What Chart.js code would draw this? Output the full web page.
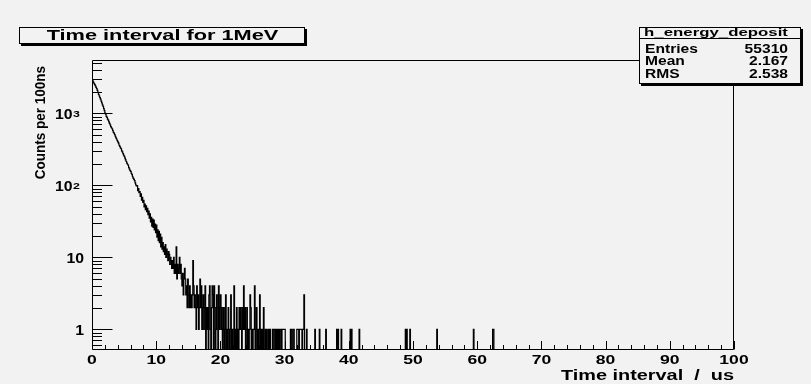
<!DOCTYPE html>
<html><head><meta charset="utf-8">
<script src="https://cdn.jsdelivr.net/npm/chart.js@4/dist/chart.umd.min.js"></script>
<style>
html,body{margin:0;padding:0;background:#f2f2f2;overflow:hidden;width:811px;height:384px;}
#wrap{position:absolute;left:0;top:0;width:811px;height:384px;}
</style></head><body>
<div id="wrap"><canvas id="c"></canvas></div>
<script>
// ---- data (bin width 0.1 us = 100 ns, 1000 bins from 0 to 100 us) ----
const binWidth = 0.1;
const nBins = 1000;
// counts for 0.0 - 17.9 us
const countsDecay = [
 2880,2790,2700,2590,2510, 2410,2290,2200,2080,1960,
 1830,1740,1650,1570,1480, 1400,1310,1250,1160,1090,
 1010,975,905,880,830, 805,760,725,690,655,
 630,610,580,545,530, 505,480,455,440,418,
 400,385,360,348,330, 322,300,292,276,262,
 252,238,226,214,203, 196,190,176,168,160,
 156,146,141,131,125, 121,116,108,101,98,
 99,84,90,79,82, 70,76,62,68,58,
 62,50,55,46,52, 43,48,39,44,35,
 40,31,36,27,34, 26,33,24,29,22,
 28,19,24,17,23, 16,21,14,19,13,
 16,12,14,11,15, 10,13,11,9,12,
 11,8,10,9,7, 9,7,10,6,8,
 6,14,5,8,6, 7,10,6,8,5,
 4,6,3,5,7, 5,3,4,2,5,
 3,2,4,2,3, 2,3,9,4,2,
 3,2,1,4,2, 3,1,2,5,2,
 4,1,2,3,1, 2,4,0,2,1
];
// counts for 18.0 - 34.9 us
const countsTail = [
 2,0,3,4,1,0,2,4,3,0,
 4,2,0,1,3,2,0,4,1,2,
 3,1,2,0,1,2,0,1,3,0,
 1,0,2,1,0,1,3,0,1,0,
 1,4,0,1,0,2,0,1,0,2,
 1,2,1,0,2,1,4,1,2,0,
 1,2,0,1,0,1,3,2,0,1,
 0,1,1,4,0,1,2,0,1,0,
 1,3,0,1,0,1,0,2,0,0,
 1,0,1,0,0,1,0,1,0,0,
 0,1,1,0,1,1,0,1,0,1,
 0,1,0,1,1,0,1,1,1,1,
 1,0,0,0,0,0,0,0,0,1,
 1,0,0,1,1,0,0,0,0,1,
 1,1,0,1,1,1,1,0,1,1,
 3,0,0,0,1,0,0,0,0,0,
 0,0,0,0,0,0,0,1,0,0
];
// isolated entries beyond 35 us: bin index and count
const sparseBins   = [354,364,381,383,388,402,404,416,488,490,495,537,594,624,625];
const sparseCounts = [1,1,1,1,1,1,1,1,1,1,1,1,1,1,1];

const xTickValues = [0,10,20,30,40,50,60,70,80,90,100];
const yTickValues = [1,10,100,1000];
const yTickLabels = ['1','10','10\u00B2','10\u00B3'];
const titleText = 'Time interval for 1MeV';
const xTitle = 'Time interval  /  us';
const yTitle = 'Counts per 100ns';
const histName = 'h_energy_deposit';
const statsLabels = ['Entries','Mean','RMS'];
const statsValues = ['55310','2.167','2.538'];

// ---- build histogram polyline (step) ----
const counts = new Array(nBins).fill(0);
countsDecay.forEach((c,i)=>{counts[i]=c;});
countsTail.forEach((c,i)=>{counts[countsDecay.length+i]=c;});
sparseBins.forEach((b,i)=>{counts[b]=sparseCounts[i];});
const EMPTY = 0.05; // empty bins fall to the floor of the log axis (clipped)
const pts = counts.map((c,i)=>({x:+(i*binWidth).toFixed(2), y: c>0?c:EMPTY}));
pts.push({x:nBins*binWidth, y:EMPTY});

const BG = '#f2f2f2';
const FONT = '"Liberation Sans", Arial, Helvetica, sans-serif';

function stext(ctx, str, x, y, size, sx, align, baseline, rot){
  ctx.save();
  ctx.translate(x, y);
  ctx.scale(sx, 1);
  if (rot) ctx.rotate(rot);
  ctx.font = 'bold ' + size + 'px ' + FONT;
  ctx.textAlign = align;
  ctx.textBaseline = baseline || 'middle';
  ctx.fillStyle = '#000';
  ctx.fillText(str, 0, 0);
  ctx.restore();
}

const rootDeco = {
  id:'rootDeco',
  beforeDraw(chart){
    const {ctx,width,height}=chart;
    ctx.save(); ctx.fillStyle=BG; ctx.fillRect(0,0,width,height); ctx.restore();
  },
  afterDatasetsDraw(chart){
    const {ctx, chartArea:a, scales:{x,y}} = chart;
    ctx.save();
    ctx.strokeStyle='#000'; ctx.lineWidth=1;
    const L=Math.round(a.left)+0.5, R=Math.round(a.right)-0.5, T=Math.round(a.top)+0.5, B=Math.round(a.bottom)-0.5;
    ctx.beginPath();
    ctx.moveTo(L,T); ctx.lineTo(R,T); ctx.lineTo(R,B); ctx.lineTo(L,B); ctx.closePath();
    ctx.stroke();
    ctx.beginPath();
    for(let v=0; v<=100; v+=2){
      const px = Math.round(x.getPixelForValue(v))+0.5;
      const len = (v%10===0)?8.5:4.5;
      ctx.moveTo(px, B); ctx.lineTo(px, B-len);
    }
    for(let d=-1; d<=3; d++){
      for(let m=1; m<=9; m++){
        const v = m*Math.pow(10,d);
        if(v < y.min || v > y.max) continue;
        const py = Math.round(y.getPixelForValue(v))+0.5;
        const len = (m===1)?20:9.5;
        ctx.moveTo(L, py); ctx.lineTo(L+len, py);
      }
    }
    ctx.stroke();
    ctx.restore();

    // x tick labels
    x.ticks.forEach(t=>{
      stext(ctx, String(t.value), x.getPixelForValue(t.value), a.bottom+10.5, 13, 1.35, 'center');
    });
    // x title
    stext(ctx, xTitle, a.right, 376, 14, 1.42, 'right');
    // y tick labels
    y.ticks.forEach(t=>{
      const i = yTickValues.indexOf(t.value);
      if (i < 0) return;
      const lab = yTickLabels[i];
      const py = y.getPixelForValue(t.value);
      const m = lab.match(/^(\d+)([\u00B2\u00B3\u00B9])$/);
      if (m) {
        stext(ctx, m[1], a.left-19.5, py+2, 14, 1.13, 'right');
        stext(ctx, m[2]==='\u00B2'?'2':(m[2]==='\u00B3'?'3':'1'), a.left-19, py+3.2, 9.5, 1.3, 'left', 'alphabetic');
      } else {
        stext(ctx, lab, a.left-8, py+2, 14, 1.13, 'right');
      }
    });
    // y title
    stext(ctx, yTitle, 40.5, a.top+6, 13.5, 1.15, 'right', 'middle', -Math.PI/2);
  },
  afterDraw(chart){
    const {ctx}=chart;
    function box(l,t,r,b){
      ctx.fillStyle='#000'; ctx.fillRect(l+2,t+2,r-l,b-t);
      ctx.fillStyle=BG; ctx.fillRect(l,t,r-l,b-t);
      ctx.strokeStyle='#000'; ctx.lineWidth=1;
      ctx.strokeRect(l+0.5,t+0.5,r-l-1,b-t-1);
    }
    ctx.save();
    // title box
    box(19,27,305,44);
    stext(ctx, titleText, 162.5, 35.8, 14.5, 1.5, 'center');
    // stats box
    const L=639, R=801, T=27, B=84;
    box(L,T,R,B);
    ctx.strokeStyle='#000'; ctx.lineWidth=1;
    ctx.beginPath(); ctx.moveTo(L, 38.5); ctx.lineTo(R, 38.5); ctx.stroke();
    stext(ctx, histName, (L+R)/2-4, 33, 10.5, 1.6, 'center');
    const rowsY=[49.5,62,74.5];
    statsLabels.forEach((lab,i)=>{
      stext(ctx, lab, L+6, rowsY[i], 12, 1.3, 'left');
      stext(ctx, statsValues[i], R-13, rowsY[i], 12, 1.3, 'right');
    });
    ctx.restore();
  }
};

new Chart(document.getElementById('c'), {
  type:'line',
  data:{datasets:[{
    data: pts, stepped:true,
    borderColor:'#000', borderWidth:1.2, pointRadius:0, fill:false, tension:0
  }]},
  options:{
    responsive:true, maintainAspectRatio:false, animation:false,
    layout:{padding:{top:60,right:77,bottom:0,left:0}},
    plugins:{legend:{display:false}, tooltip:{enabled:false}},
    scales:{
      x:{
        type:'linear', min:0, max:100,
        afterBuildTicks(s){ s.ticks = xTickValues.map(v=>({value:v})); },
        afterFit(s){ s.height = 34; },
        grid:{display:false, drawTicks:false},
        border:{display:false},
        ticks:{display:false},
        title:{display:false, text:xTitle}
      },
      y:{
        type:'logarithmic', min:0.516, max:5500,
        afterBuildTicks(s){ s.ticks = yTickValues.map(v=>({value:v})); },
        afterFit(s){ s.width = 92; },
        grid:{display:false, drawTicks:false},
        border:{display:false},
        ticks:{display:false},
        title:{display:false, text:yTitle}
      }
    }
  },
  plugins:[rootDeco]
});
</script>
</body></html>
